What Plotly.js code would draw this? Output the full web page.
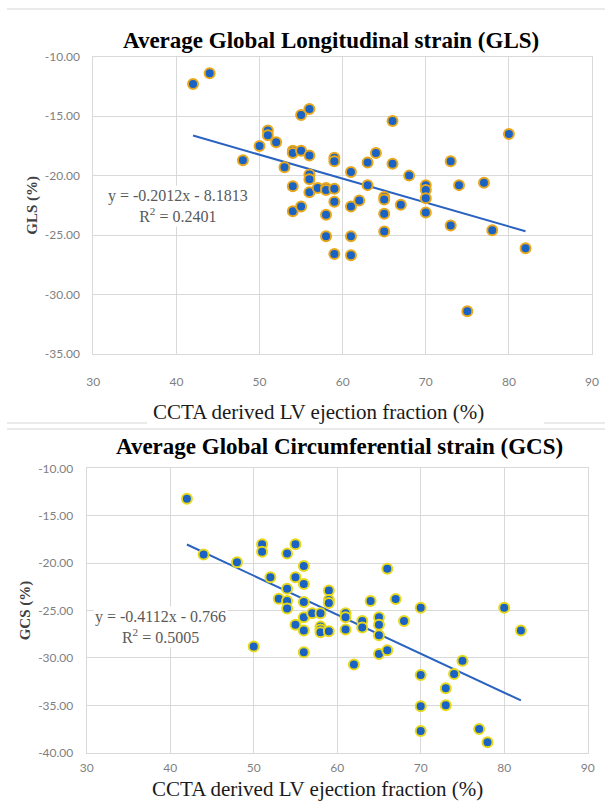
<!DOCTYPE html>
<html>
<head>
<meta charset="utf-8">
<script src="https://cdn.plot.ly/plotly-3.0.1.min.js"></script>
<style>
  html, body { margin: 0; padding: 0; background: #ffffff; }
  #chart { width: 605px; height: 810px; }
</style>
</head>
<body>
<div id="chart"></div>
<script>
// ---------- Top chart: GLS ----------
const glsEF = [42, 44, 48, 50, 51, 51, 52, 53, 54, 54, 54, 54, 55, 55, 55, 56, 56, 56, 56, 56,
  57, 58, 58, 58, 58, 59, 59, 59, 59, 59, 61, 61, 61, 61, 62, 63, 63, 64, 65, 65,
  65, 65, 66, 66, 67, 68, 70, 70, 70, 70, 73, 73, 74, 75, 77, 78, 80, 82];
const glsValues = [-12.3, -11.4, -18.7, -17.5, -16.2, -16.6, -17.2, -19.3, -17.9, -18.1, -20.9, -23.0, -14.9, -17.9, -22.6, -14.4, -18.3, -19.9, -20.3, -21.4,
  -21.05, -21.05, -21.2, -23.3, -25.1, -18.5, -18.8, -21.1, -22.2, -26.6, -19.7, -22.6, -25.1, -26.7, -22.1, -18.9, -20.8, -18.1, -21.8, -22.0,
  -23.2, -24.7, -15.4, -19.0, -22.45, -20.0, -20.8, -21.2, -21.9, -23.1, -18.8, -24.2, -20.8, -31.4, -20.6, -24.6, -16.5, -26.1];
const glsSlope = -0.2012, glsIntercept = -8.1813, glsR2 = 0.2401;

// ---------- Bottom chart: GCS ----------
const gcsEF = [42, 44, 48, 50, 51, 51, 52, 53, 54, 54, 54, 54, 55, 55, 55, 56, 56, 56, 56, 56,
  56, 57, 58, 58, 58, 58, 59, 59, 59, 59, 61, 61, 61, 62, 63, 63, 64, 65, 65, 65,
  65, 66, 66, 67, 68, 70, 70, 70, 70, 73, 73, 74, 75, 77, 78, 80, 82];
const gcsValues = [-13.2, -19.1, -19.9, -28.8, -18.0, -18.8, -21.5, -23.75, -19.0, -22.7, -24.0, -24.8, -18.0, -21.5, -26.5, -20.3, -22.2, -24.1, -25.7, -27.1,
  -29.4, -25.3, -25.3, -26.7, -27.0, -27.3, -22.9, -23.9, -24.2, -27.2, -25.3, -25.7, -27.0, -30.7, -26.1, -26.8, -24.0, -25.7, -26.5, -27.6,
  -29.6, -20.6, -29.2, -23.8, -26.1, -24.7, -31.8, -35.1, -37.7, -33.2, -35.0, -31.7, -30.3, -37.5, -38.9, -24.7, -27.1];
const gcsSlope = -0.4112, gcsIntercept = -0.766, gcsR2 = 0.5005;

// ---------- Axis ticks ----------
const xTicks = [30, 40, 50, 60, 70, 80, 90];
const glsTicks = [-35, -30, -25, -20, -15, -10];
const glsTickText = ["-35.00", "-30.00", "-25.00", "-20.00", "-15.00", "-10.00"];
const gcsTicks = [-40, -35, -30, -25, -20, -15, -10];
const gcsTickText = ["-40.00", "-35.00", "-30.00", "-25.00", "-20.00", "-15.00", "-10.00"];

const xTitle = "CCTA derived LV ejection fraction (%)";

function trend(xs, m, b) {
  const lo = Math.min(...xs), hi = Math.max(...xs);
  return { x: [lo, hi], y: [m * lo + b, m * hi + b] };
}
const glsLine = trend(glsEF, glsSlope, glsIntercept);
const gcsLine = trend(gcsEF, gcsSlope, gcsIntercept);

const blue = "#1a62c4";
const traces = [
  { x: glsLine.x, y: glsLine.y, type: "scatter", mode: "lines", xaxis: "x", yaxis: "y",
    line: { color: "#2a62c0", width: 2 }, hoverinfo: "skip", showlegend: false },
  { x: glsEF, y: glsValues, type: "scatter", mode: "markers", xaxis: "x", yaxis: "y",
    marker: { color: blue, size: 10, line: { color: "#e9a81c", width: 2 } }, showlegend: false },
  { x: gcsLine.x, y: gcsLine.y, type: "scatter", mode: "lines", xaxis: "x2", yaxis: "y2",
    line: { color: "#2a62c0", width: 2 }, hoverinfo: "skip", showlegend: false },
  { x: gcsEF, y: gcsValues, type: "scatter", mode: "markers", xaxis: "x2", yaxis: "y2",
    marker: { color: blue, size: 10, line: { color: "#e8d81a", width: 2 } }, showlegend: false }
];

const W = 605, H = 810;
const tickFont = { family: "Lato, 'Liberation Sans', sans-serif", size: 12, color: "#7f7f7f" };
const serif = "'Liberation Serif', 'DejaVu Serif', serif";

function xAxis(domain, anchor, standoff) {
  return {
    domain: domain, anchor: anchor, range: [30, 90], tickvals: xTicks, ticktext: xTicks.map(String),
    showgrid: true, gridcolor: "#d9d9d9", gridwidth: 1, zeroline: false,
    showline: true, linecolor: "#d9d9d9", linewidth: 1, mirror: true, ticks: "",
    tickfont: tickFont, ticklabelstandoff: standoff, fixedrange: true
  };
}
function yAxis(domain, anchor, range, vals, text, title) {
  return {
    domain: domain, anchor: anchor, range: range, tickvals: vals, ticktext: text,
    showgrid: true, gridcolor: "#d9d9d9", gridwidth: 1, zeroline: false,
    showline: true, linecolor: "#d9d9d9", linewidth: 1, mirror: true, ticks: "",
    tickfont: tickFont, ticklabelstandoff: 10, fixedrange: true,
    title: { text: title, font: { family: serif, size: 15, color: "#404040", weight: "bold" }, standoff: 3 }
  };
}

const layout = {
  width: W, height: H,
  margin: { l: 0, r: 0, t: 0, b: 0 },
  paper_bgcolor: "#ffffff", plot_bgcolor: "#ffffff",
  showlegend: false,
  xaxis: xAxis([93.3 / W, 592 / W], "y", 17),
  yaxis: yAxis([1 - 354 / H, 1 - 56.7 / H], "x", [-35, -10], glsTicks, glsTickText, "GLS (%)"),
  xaxis2: xAxis([86.7 / W, 587.7 / W], "y2", 4),
  yaxis2: yAxis([1 - 752.7 / H, 1 - 468.3 / H], "x2", [-40, -10], gcsTicks, gcsTickText, "GCS (%)"),
  annotations: [
    { text: "<b>Average Global Longitudinal strain (GLS)</b>", xref: "paper", yref: "paper",
      x: 331 / W, y: 1 - 40 / H, xanchor: "center", yanchor: "middle", showarrow: false,
      font: { family: serif, size: 23, color: "#000000" } },
    { text: "<b>Average Global Circumferential strain (GCS)</b>", xref: "paper", yref: "paper",
      x: 339 / W, y: 1 - 446 / H, xanchor: "center", yanchor: "middle", showarrow: false,
      font: { family: serif, size: 23, color: "#000000" } },
    { text: xTitle, xref: "paper", yref: "paper", x: 318 / W, y: 1 - 412 / H,
      xanchor: "center", yanchor: "middle", showarrow: false,
      font: { family: serif, size: 21, color: "#1a1a1a" } },
    { text: xTitle, xref: "paper", yref: "paper", x: 317 / W, y: 1 - 789 / H,
      xanchor: "center", yanchor: "middle", showarrow: false,
      font: { family: serif, size: 21, color: "#1a1a1a" } },
    { text: "y = " + glsSlope + "x - " + Math.abs(glsIntercept) + "<br>R<sup>2</sup> = " + glsR2,
      xref: "paper", yref: "paper", x: 178 / W, y: 1 - 206 / H, xanchor: "center", yanchor: "middle",
      showarrow: false, align: "center", bgcolor: "#ffffff",
      font: { family: serif, size: 16, color: "#595959" } },
    { text: "y = " + gcsSlope + "x - " + Math.abs(gcsIntercept) + "<br>R<sup>2</sup> = " + gcsR2,
      xref: "paper", yref: "paper", x: 160 / W, y: 1 - 627 / H, xanchor: "center", yanchor: "middle",
      showarrow: false, align: "center", bgcolor: "#ffffff",
      font: { family: serif, size: 16, color: "#595959" } }
  ],
  shapes: [
    { type: "line", xref: "paper", yref: "paper", x0: 7 / W, x1: 1, y0: 1 - 9 / H, y1: 1 - 9 / H,
      line: { color: "#e3e3e3", width: 1.5 } },
    { type: "line", xref: "paper", yref: "paper", x0: 7 / W, x1: 147 / W, y0: 1 - 423 / H, y1: 1 - 423 / H,
      line: { color: "#e3e3e3", width: 1.5 } },
    { type: "line", xref: "paper", yref: "paper", x0: 544 / W, x1: 1, y0: 1 - 423 / H, y1: 1 - 423 / H,
      line: { color: "#e3e3e3", width: 1.5 } },
    { type: "line", xref: "paper", yref: "paper", x0: 7 / W, x1: 1, y0: 1 - 429 / H, y1: 1 - 429 / H,
      line: { color: "#e3e3e3", width: 1.5 } }
  ]
};

Plotly.newPlot("chart", traces, layout, { displayModeBar: false, staticPlot: true });
</script>
</body>
</html>
